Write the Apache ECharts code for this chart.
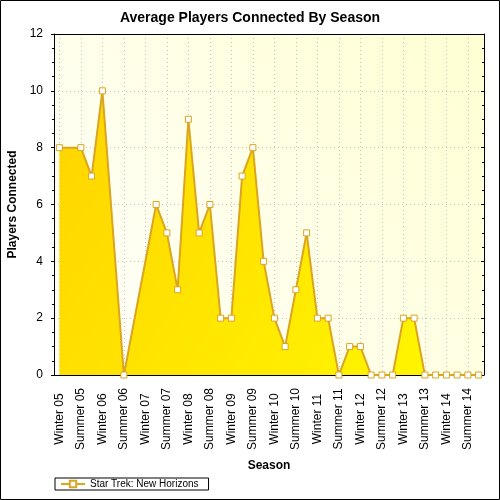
<!DOCTYPE html>
<html><head><meta charset="utf-8">
<script src="https://cdn.jsdelivr.net/npm/echarts@6/dist/echarts.min.js"></script>
<style>html,body{margin:0;padding:0;background:#fff}#c{width:500px;height:500px}</style>
</head><body><div id="c"></div>
<script>
const chartTitle = 'Average Players Connected By Season';
const seriesName = 'Star Trek: New Horizons';
const xName = 'Season';
const yName = 'Players Connected';
const categories = [
  'Winter 05','Spring 05','Summer 05','Fall 05',
  'Winter 06','Spring 06','Summer 06','Fall 06',
  'Winter 07','Spring 07','Summer 07','Fall 07',
  'Winter 08','Spring 08','Summer 08','Fall 08',
  'Winter 09','Spring 09','Summer 09','Fall 09',
  'Winter 10','Spring 10','Summer 10','Fall 10',
  'Winter 11','Spring 11','Summer 11','Fall 11',
  'Winter 12','Spring 12','Summer 12','Fall 12',
  'Winter 13','Spring 13','Summer 13','Fall 13',
  'Winter 14','Spring 14','Summer 14','Fall 14'
];
const players = [
  8, null, 8, 7,
  10, null, 0, null,
  null, 6, 5, 3,
  9, 5, 6, 2,
  2, 7, 8, 4,
  2, 1, 3, 5,
  2, 2, 0, 1,
  1, 0, 0, 0,
  2, 2, 0, 0,
  0, 0, 0, 0
];
const yMin = 0, yMax = 12, yInterval = 2;

const FONT = 'Liberation Sans';
const gold = '#DAA520';
const dotted = {color: '#c4c4c4', width: 1, type: [1, 3]};

const chart = echarts.init(document.getElementById('c'));
chart.setOption({
  animation: false,
  title: {
    text: chartTitle, left: 'center', top: 6,
    textStyle: {fontFamily: FONT, fontSize: 14, fontWeight: 'bold', color: '#000'}
  },
  legend: {
    data: [seriesName], left: 55, top: 478,
    borderColor: '#000', borderWidth: 1, borderRadius: 0,
    padding: [1, 10, 1, 5], itemWidth: 24, itemHeight: 8, itemGap: 5,
    textStyle: {fontFamily: FONT, fontSize: 10, color: '#000'}
  },
  grid: {
    left: 54, right: 16, top: 34, bottom: 125,
    show: true, borderWidth: 0,
    backgroundColor: {type: 'linear', x: 0, y: 1, x2: 1, y2: 0,
      colorStops: [{offset: 0, color: '#FFFFFC'}, {offset: 1, color: '#FFFFD2'}]},
    outerBoundsMode: 'none'
  },
  xAxis: [
    {
      type: 'category', data: categories, position: 'bottom', boundaryGap: true,
      axisLine: {onZero: false, lineStyle: {color: '#000', width: 1}},
      axisTick: {alignWithLabel: true, interval: 0, length: 3, lineStyle: {color: '#000'}},
      axisLabel: {interval: 1, rotate: 90, align: 'center', verticalAlign: 'middle', margin: 44,
        fontFamily: FONT, fontSize: 12, color: '#000'},
      splitLine: {show: true, interval: 1, alignWithLabel: true, lineStyle: dotted},
      name: xName, nameLocation: 'middle', nameGap: 85,
      nameTextStyle: {fontFamily: FONT, fontSize: 12, fontWeight: 'bold', color: '#000'}
    },
    {
      type: 'category', data: categories, position: 'bottom', boundaryGap: true,
      axisLine: {show: false, onZero: false},
      axisTick: {inside: true, alignWithLabel: true, interval: 1, length: 3, lineStyle: {color: '#000'}},
      axisLabel: {show: false}, splitLine: {show: false}
    },
    {
      type: 'category', data: categories, position: 'top', boundaryGap: true,
      axisLine: {onZero: false, lineStyle: {color: '#000', width: 1}},
      axisTick: {inside: true, alignWithLabel: true, interval: 0, length: 3, lineStyle: {color: '#000'}},
      axisLabel: {show: false}, splitLine: {show: false}
    }
  ],
  yAxis: [
    {
      type: 'value', min: yMin, max: yMax, interval: yInterval, position: 'left',
      axisLine: {show: true, onZero: false, lineStyle: {color: '#000', width: 1}},
      axisTick: {show: true, length: 3, lineStyle: {color: '#000'}},
      minorTick: {show: true, splitNumber: 4, length: 2, lineStyle: {color: '#000'}},
      axisLabel: {margin: 11, fontFamily: FONT, fontSize: 12, color: '#000'},
      splitLine: {show: true, lineStyle: dotted},
      name: yName, nameLocation: 'middle', nameGap: 29,
      nameTextStyle: {fontFamily: FONT, fontSize: 12, fontWeight: 'bold', color: '#000'}
    },
    {
      type: 'value', min: yMin, max: yMax, interval: yInterval, position: 'right',
      axisLine: {show: true, onZero: false, lineStyle: {color: '#000', width: 1}},
      axisTick: {show: true, inside: true, length: 3, lineStyle: {color: '#000'}},
      minorTick: {show: true, splitNumber: 4, length: 2, lineStyle: {color: '#000'}},
      axisLabel: {show: false}, splitLine: {show: false}
    }
  ],
  series: [{
    type: 'line', name: seriesName, data: players,
    xAxisIndex: 0, yAxisIndex: 0,
    connectNulls: true, showAllSymbol: true,
    symbol: 'rect', symbolSize: 6,
    lineStyle: {color: gold, width: 2},
    itemStyle: {color: '#fff', borderColor: gold, borderWidth: 1},
    areaStyle: {opacity: 1, color: {type: 'linear', x: 0, y: 0, x2: 1, y2: 1,
      colorStops: [{offset: 0, color: '#FFD400'}, {offset: 1, color: '#FFF800'}]}},
    emphasis: {disabled: true}
  }],
  graphic: [{
    type: 'rect', silent: true, z: 100,
    shape: {x: 0.5, y: 0.5, width: 499, height: 499},
    style: {fill: 'none', stroke: '#000', lineWidth: 1}
  }]
});
</script></body></html>
